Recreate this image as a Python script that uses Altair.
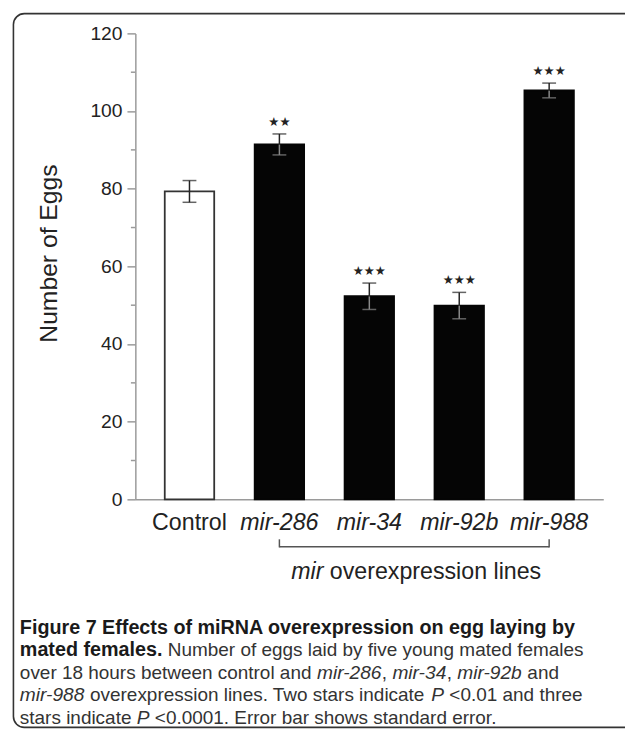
import altair as alt
import pandas as pd

# ---------------- data ----------------
groups = ["Control", "mir-286", "mir-34", "mir-92b", "mir-988"]
means = [79.3, 91.4, 52.3, 49.9, 105.3]
sems = [2.8, 2.7, 3.4, 3.4, 1.9]
stars = ["", "**", "***", "***", "***"]
y_ticks = [0, 20, 40, 60, 80, 100, 120]
minor_ticks = [10, 30, 50, 70, 90, 110]
y_title = "Number of Eggs"
group_title_italic = "mir"
group_title_rest = "overexpression lines"
bracket_from, bracket_to = "mir-286", "mir-988"

caption_lines = [
    [("Figure 7 Effects of miRNA overexpression on egg laying by", "b")],
    [("mated females.", "b"), ("Number of eggs laid by five young mated females", "n")],
    [("over 18 hours between control and", "n"), ("mir-286", "i"), (",", "n"),
     ("mir-34", "i"), (",", "n"), ("mir-92b", "i"), ("and", "n")],
    [("mir-988", "i"), ("overexpression lines. Two stars indicate", "n"), ("P", "i"),
     ("<0.01 and three", "n")],
    [("stars indicate", "n"), ("P", "i"), ("<0.0001. Error bar shows standard error.", "n")],
]
# whether a space separates segment k from k+1
caption_gaps = [
    [],
    [True],
    [True, False, True, False, True, True],
    [True, True, True],
    [True, True],
]

df = pd.DataFrame({"group": groups, "mean": means, "se": sems, "stars": stars})
df["lo"] = df["mean"] - df["se"]
df["hi"] = df["mean"] + df["se"]
df["star_txt"] = df["stars"].str.replace("*", "\u2605", regex=False)

# ---------------- layout ----------------
W, H = 474, 472
PAD_L, PAD_T = 129, 21
TOTAL_W, TOTAL_H = 625, 727


def rx(px):
    return px - 8 - PAD_L


def ry(py):
    return py - 8 - PAD_T


AXIS_GRAY = "#9a9a9a"
TXT = "#222222"
FONT = "Liberation Sans"

xs = alt.Scale(domain=groups, paddingInner=0.45, paddingOuter=0.327)
ys = alt.Scale(domain=[0, 120], nice=False, zero=True)

x_axis = alt.Axis(
    title=None, ticks=False, tickSize=0, labelAngle=0, labelPadding=24,
    labelBaseline="middle", labelFont=FONT, labelFontSize=23.5,
    labelColor=TXT,
    labelFontStyle={"condition": {"test": "datum.value == 'Control'", "value": "normal"},
                    "value": "italic"},
    domainColor=AXIS_GRAY, domainWidth=1.5, grid=False,
)
y_axis = alt.Axis(
    title=None, values=y_ticks, tickSize=8.5, tickWidth=1.5, tickColor=AXIS_GRAY,
    labelPadding=5, labelFont=FONT, labelFontSize=19.5, labelColor=TXT,
    domainColor=AXIS_GRAY, domainWidth=1.5, grid=False,
)


def X(field="group"):
    return alt.X(f"{field}:N", scale=xs, sort=groups, axis=x_axis)


def Y(field):
    return alt.Y(f"{field}:Q", scale=ys, axis=y_axis)


is_ctrl = "datum.group == 'Control'"

bars = alt.Chart(df).mark_bar(strokeWidth=1.8).encode(
    x=X(), y=Y("mean"),
    fill=alt.condition(is_ctrl, alt.value("white"), alt.value("#050505")),
    stroke=alt.condition(is_ctrl, alt.value("#333333"), alt.value("#050505")),
)

err_low = alt.Chart(df).mark_rule(strokeWidth=1.5).encode(
    x=X(), y=Y("lo"), y2="mean",
    color=alt.condition(is_ctrl, alt.value(TXT), alt.value("#8a8a8a")),
)
err_low_cap = alt.Chart(df).mark_tick(size=14, thickness=1.5).encode(
    x=X(), y=Y("lo"),
    color=alt.condition(is_ctrl, alt.value(TXT), alt.value("#8a8a8a")),
)
err_up = alt.Chart(df).mark_rule(strokeWidth=1.5, color=TXT).encode(
    x=X(), y=Y("mean"), y2="hi",
)
err_up_cap = alt.Chart(df).mark_tick(size=14, thickness=1.5, color=TXT).encode(
    x=X(), y=Y("hi"),
)

star_marks = alt.Chart(df).mark_text(
    font="DejaVu Sans", fontSize=12.5, baseline="alphabetic", dy=-8, color=TXT
).encode(x=X(), y=Y("hi"), text="star_txt:N")

minor = alt.Chart(pd.DataFrame({"v": minor_ticks})).mark_rule(
    color=AXIS_GRAY, strokeWidth=1.5
).encode(x=alt.value(-4.5), x2=alt.value(0), y=Y("v"))

one = pd.DataFrame({"k": [0]})

ytitle = alt.Chart(one).mark_text(
    angle=270, align="center", baseline="middle", font=FONT,
    fontSize=25, color=TXT,
).encode(x=alt.value(rx(50)), y=alt.value(ry(252)), text=alt.value(y_title))

br = pd.DataFrame({"a": [bracket_from], "b": [bracket_to]})
bracket_h = alt.Chart(br).mark_rule(color="#555555", strokeWidth=1.5).encode(
    x=X("a"), x2="b:N", y=alt.value(ry(549)),
)
br_ends = pd.DataFrame({"group": [bracket_from, bracket_to]})
bracket_v = alt.Chart(br_ends).mark_rule(color="#555555", strokeWidth=1.5).encode(
    x=X(), y=alt.value(ry(541.5)), y2=alt.value(ry(549.7)),
)

gt1 = alt.Chart(one).mark_text(
    align="right", baseline="middle", font=FONT, fontSize=23.5,
    fontStyle="italic", color=TXT,
).encode(x=alt.value(rx(327.5)), y=alt.value(ry(575)), text=alt.value(group_title_italic))
gt2 = alt.Chart(one).mark_text(
    align="left", baseline="middle", font=FONT, fontSize=23.5, color=TXT,
).encode(x=alt.value(rx(334)), y=alt.value(ry(575)), text=alt.value(group_title_rest))

border = alt.Chart(one).mark_rect(
    fillOpacity=0, stroke="#333333", strokeWidth=1.6, cornerRadius=11,
).encode(
    x=alt.value(rx(13.5)), x2=alt.value(rx(660)),
    y=alt.value(ry(9)), y2=alt.value(ry(732)),
)

# ------------- caption (rich text laid out segment by segment) -------------
# approximate advance widths (1/1000 em) of Liberation Sans regular / bold
REG = {' ': 278, ',': 278, '-': 333, '.': 278, '<': 584,
       'A': 667, 'E': 667, 'F': 611, 'N': 722, 'P': 667, 'R': 722, 'T': 611,
       'a': 556, 'b': 556, 'c': 500, 'd': 556, 'e': 556, 'f': 278, 'g': 556,
       'h': 556, 'i': 222, 'k': 500, 'l': 222, 'm': 833, 'n': 556, 'o': 556,
       'p': 556, 'r': 333, 's': 500, 't': 278, 'u': 556, 'v': 500, 'w': 722,
       'x': 500, 'y': 500}
BLD = {' ': 278, ',': 278, '-': 333, '.': 278,
       'A': 722, 'E': 667, 'F': 611, 'N': 722, 'R': 722,
       'a': 556, 'b': 611, 'c': 556, 'd': 611, 'e': 556, 'f': 333, 'g': 611,
       'h': 611, 'i': 278, 'k': 556, 'l': 278, 'm': 889, 'n': 611, 'o': 611,
       'p': 611, 'r': 389, 's': 556, 't': 333, 'u': 611, 'v': 556, 'w': 778,
       'x': 556, 'y': 556}
for d in "0123456789":
    REG[d] = 556
    BLD[d] = 556
STYLE_SIZE = {"n": 19.2, "b": 20.0, "i": 19.4}


def seg_width(s, style):
    table = BLD if style == "b" else REG
    return sum(table.get(c, 556) for c in s) / 1000 * STYLE_SIZE[style]


CAP_X0 = 20
CAP_Y0 = 631
CAP_DY = 22.8
cap_layers = []
for li, line in enumerate(caption_lines):
    xcur = CAP_X0
    ypix = CAP_Y0 + li * CAP_DY
    for si, (s, st) in enumerate(line):
        cap_layers.append(
            alt.Chart(one).mark_text(
                align="left", baseline="middle", font=FONT, fontSize=STYLE_SIZE[st],
                fontWeight="bold" if st == "b" else "normal",
                fontStyle="italic" if st == "i" else "normal",
                color="#1a1a1a" if st == "b" else "#333333",
            ).encode(x=alt.value(rx(xcur)), y=alt.value(ry(ypix)), text=alt.value(s))
        )
        xcur += seg_width(s, st)
        if si < len(caption_gaps[li]) and caption_gaps[li][si]:
            xcur += seg_width(" ", "n")

chart = alt.layer(
    border, minor, bars, err_low, err_low_cap, err_up, err_up_cap, star_marks,
    ytitle, bracket_h, bracket_v, gt1, gt2, *cap_layers,
).properties(
    width=W, height=H,
    autosize=alt.AutoSizeParams(type="none"),
    padding={"left": PAD_L, "top": PAD_T, "right": TOTAL_W - PAD_L - W,
             "bottom": TOTAL_H - PAD_T - H},
    background="white",
).configure_view(stroke=None)

chart.save("out.html", embed_options={"renderer": "svg", "actions": False})
